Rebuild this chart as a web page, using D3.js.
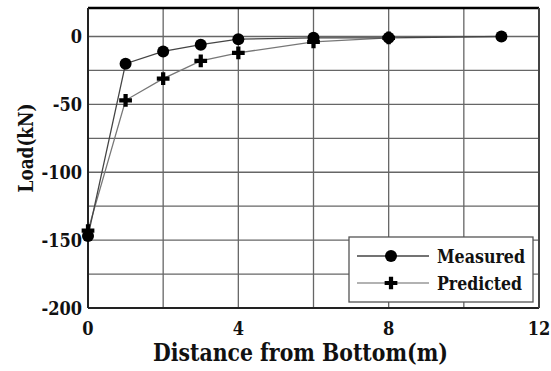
<!DOCTYPE html>
<html lang="en">
<head>
<meta charset="utf-8">
<title>Load vs distance</title>
<script src="https://d3js.org/d3.v7.min.js"></script>
</head>
<body style="margin:0;background:#fff">
<script>
// data
var measuredX = [0, 1, 2, 3, 4, 6, 8, 11];
var measuredY = [-147, -20, -11, -6, -2, -1, -1, 0];
var predictedX = [0, 1, 2, 3, 4, 6, 8];
var predictedY = [-143, -47, -31, -18, -12, -4, -1];
var xTicks = [0, 4, 8, 12];
var yTicks = [0, -50, -100, -150, -200];
var seriesNames = ["Measured", "Predicted"];

var width = 551, height = 371;
var margin = {top: 8, right: 12, bottom: 63, left: 88};
var w = width - margin.left - margin.right;
var h = height - margin.top - margin.bottom;

var svg = d3.select("body").append("svg")
    .attr("width", width)
    .attr("height", height)
    .attr("font-family", "'DejaVu Serif Condensed', 'DejaVu Serif', serif")
    .attr("font-stretch", "condensed")
    .attr("font-weight", "bold")
    .style("display", "block");

var g = svg.append("g")
    .attr("transform", "translate(" + margin.left + "," + margin.top + ")");

var x = d3.scaleLinear().domain([0, 12]).range([0, w]);
var y = d3.scaleLinear().domain([-200, 21]).range([h, 0]);

// grid
g.selectAll(".vgrid")
    .data(d3.range(2, 12, 2))
    .enter().append("line")
    .attr("x1", function(d) { return x(d); })
    .attr("x2", function(d) { return x(d); })
    .attr("y1", 0).attr("y2", h)
    .attr("stroke", "#666").attr("stroke-width", 1.3);

g.selectAll(".hgrid")
    .data(d3.range(-175, 1, 25))
    .enter().append("line")
    .attr("x1", 0).attr("x2", w)
    .attr("y1", function(d) { return y(d); })
    .attr("y2", function(d) { return y(d); })
    .attr("stroke", "#666").attr("stroke-width", 1.3);

// frame
g.append("line").attr("x1", 0).attr("x2", w).attr("y1", 0).attr("y2", 0)
    .attr("stroke", "#000").attr("stroke-width", 2.5);
g.append("line").attr("x1", 0).attr("x2", w).attr("y1", h).attr("y2", h)
    .attr("stroke", "#222").attr("stroke-width", 2);
g.append("line").attr("x1", 0).attr("x2", 0).attr("y1", 0).attr("y2", h)
    .attr("stroke", "#222").attr("stroke-width", 2);
g.append("line").attr("x1", w).attr("x2", w).attr("y1", 0).attr("y2", h)
    .attr("stroke", "#444").attr("stroke-width", 2);

// tick labels
g.selectAll(".xlab")
    .data(xTicks)
    .enter().append("text")
    .attr("x", function(d) { return x(d); })
    .attr("y", h + 27)
    .attr("text-anchor", "middle")
    .attr("font-size", "18px")
    .attr("fill", "#111")
    .text(function(d) { return d; });

g.selectAll(".ylab")
    .data(yTicks)
    .enter().append("text")
    .attr("x", -6)
    .attr("y", function(d) { return y(d) + 6.5; })
    .attr("text-anchor", "end")
    .attr("font-size", "18px")
    .attr("fill", "#111")
    .text(function(d) { return d; });

// axis titles
svg.append("text")
    .attr("x", 153)
    .attr("y", 361)
    .attr("font-size", "24px")
    .attr("fill", "#111")
    .attr("textLength", 295)
    .attr("lengthAdjust", "spacingAndGlyphs")
    .text("Distance from Bottom(m)");

svg.append("text")
    .attr("transform", "translate(33,148) rotate(-90)")
    .attr("text-anchor", "middle")
    .attr("font-size", "21px")
    .attr("fill", "#111")
    .attr("textLength", 89)
    .attr("lengthAdjust", "spacingAndGlyphs")
    .text("Load(kN)");

var line = d3.line()
    .x(function(d) { return x(d[0]); })
    .y(function(d) { return y(d[1]); });

var measured = d3.zip(measuredX, measuredY);
var predicted = d3.zip(predictedX, predictedY);

g.append("path").datum(predicted)
    .attr("d", line).attr("fill", "none")
    .attr("stroke", "#777").attr("stroke-width", 1.3);
g.append("path").datum(measured)
    .attr("d", line).attr("fill", "none")
    .attr("stroke", "#444").attr("stroke-width", 1.3);

var cross = d3.symbol().type(d3.symbolCross).size(90);

g.selectAll(".pm")
    .data(predicted)
    .enter().append("path")
    .attr("d", cross)
    .attr("transform", function(d) { return "translate(" + x(d[0]) + "," + y(d[1]) + ")"; })
    .attr("fill", "#000");

g.selectAll(".mm")
    .data(measured)
    .enter().append("circle")
    .attr("cx", function(d) { return x(d[0]); })
    .attr("cy", function(d) { return y(d[1]); })
    .attr("r", 6)
    .attr("fill", "#000");

// legend
var lg = svg.append("g").attr("transform", "translate(349,237)");
lg.append("rect")
    .attr("width", 184).attr("height", 65)
    .attr("fill", "#fff").attr("stroke", "#555").attr("stroke-width", 1.3);

var legendTextW = [88, 85];
seriesNames.forEach(function(name, i) {
    var yy = 19 + i * 27;
    lg.append("line")
        .attr("x1", 8).attr("x2", 80).attr("y1", yy).attr("y2", yy)
        .attr("stroke", i == 0 ? "#444" : "#999").attr("stroke-width", 1.3);
    if (i == 0) {
        lg.append("circle").attr("cx", 42).attr("cy", yy).attr("r", 6).attr("fill", "#000");
    } else {
        lg.append("path").attr("d", cross)
            .attr("transform", "translate(42," + yy + ")").attr("fill", "#000");
    }
    lg.append("text")
        .attr("x", 88).attr("y", yy + 7)
        .attr("font-size", "19px")
        .attr("fill", "#111")
        .attr("textLength", legendTextW[i])
        .attr("lengthAdjust", "spacingAndGlyphs")
        .text(name);
});
</script>
</body>
</html>
